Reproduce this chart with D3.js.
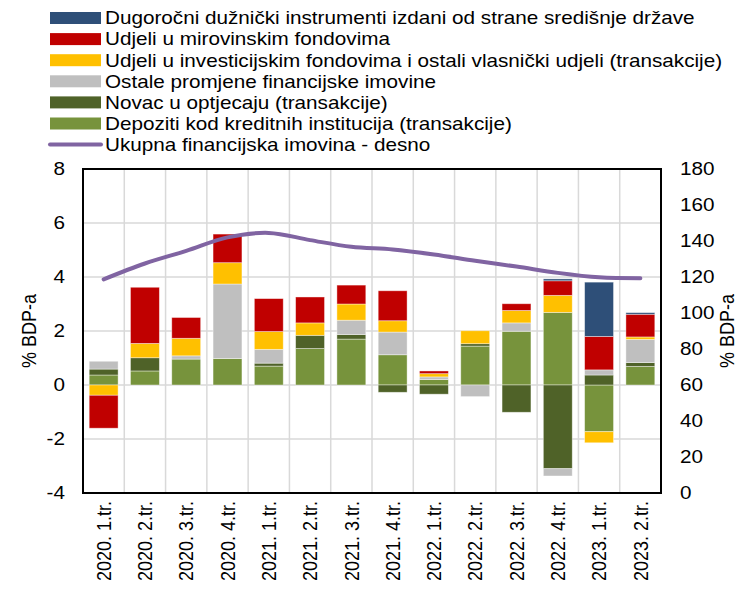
<!DOCTYPE html>
<html>
<head>
<meta charset="utf-8">
<script src="https://cdn.jsdelivr.net/npm/d3@7"></script>
<style>
  body { margin: 0; background: #fff; }
  text { font-family: "Liberation Sans", Arial, sans-serif; fill: #000; }
</style>
</head>
<body>
<div id="chart"></div>
<script>
// Categories (quarters)
const quarters = ["2020. 1.tr.", "2020. 2.tr.", "2020. 3.tr.", "2020. 4.tr.",
  "2021. 1.tr.", "2021. 2.tr.", "2021. 3.tr.", "2021. 4.tr.",
  "2022. 1.tr.", "2022. 2.tr.", "2022. 3.tr.", "2022. 4.tr.",
  "2023. 1.tr.", "2023. 2.tr."];

// Series values, % BDP-a (left axis)
const depoziti   = [0.37, 0.52, 0.96, 0.98, 0.70, 1.35, 1.70, 1.12, 0.20, 1.44, 1.99, 2.69, -1.73, 0.69];
const novac      = [0.22, 0.49, 0.00, 0.00, 0.11, 0.49, 0.17, -0.27, -0.34, 0.09, -1.01, -3.10, 0.37, 0.14];
const ostale     = [0.29, 0.00, 0.12, 2.76, 0.51, 0.00, 0.53, 0.84, 0.10, -0.43, 0.31, -0.27, 0.19, 0.86];
const investFond = [-0.38, 0.53, 0.65, 0.79, 0.66, 0.46, 0.60, 0.42, 0.12, 0.48, 0.46, 0.63, -0.41, 0.09];
const mirovFond  = [-1.22, 2.08, 0.77, 1.06, 1.22, 0.96, 0.70, 1.11, 0.10, 0.00, 0.25, 0.54, 1.24, 0.84];
const dugorocni  = [0.00, 0.00, 0.00, 0.00, 0.00, 0.00, 0.00, 0.00, 0.00, 0.00, 0.00, 0.07, 2.01, 0.06];

// Total financial assets, % BDP-a (right axis)
const ukupna = [118.7, 127.5, 134.5, 142, 144.5, 140.5, 136.8, 135.3, 132.5, 129, 125.8, 122.3, 119.8, 119.3];

const leftTicks = [-4, -2, 0, 2, 4, 6, 8];
const rightTicks = [0, 20, 40, 60, 80, 100, 120, 140, 160, 180];

const seriesNames = [
  "Depoziti kod kreditnih institucija (transakcije)",
  "Novac u optjecaju (transakcije)",
  "Ostale promjene financijske imovine",
  "Udjeli u investicijskim fondovima i ostali vlasnički udjeli (transakcije)",
  "Udjeli u mirovinskim fondovima",
  "Dugoročni dužnički instrumenti izdani od strane središnje države"
];
const seriesValues = [depoziti, novac, ostale, investFond, mirovFond, dugorocni];
const seriesColors = ["#77933C", "#4F6228", "#BFBFBF", "#FFC000", "#C00000", "#2E4F78"];
const lineName = "Ukupna financijska imovina - desno";
const lineColor = "#8064A2";

const W = 742, H = 590;
const margin = { top: 169, right: 81, bottom: 97, left: 83 };
const width = W - margin.left - margin.right;
const height = H - margin.top - margin.bottom;
const stretch = 1.15; // text in the picture is a little wider than plain Arial

const svg = d3.select("#chart").append("svg")
  .attr("width", W)
  .attr("height", H);

const chart = svg.append("g")
  .attr("transform", `translate(${margin.left},${margin.top})`);

// Scales
const x = d3.scaleBand().domain(quarters).range([0, width]).paddingInner(0.3).paddingOuter(0.15);
const xGrid = d3.scaleBand().domain(quarters).range([0, width]);
const y = d3.scaleLinear().domain([-4, 8]).range([height, 0]);
const y2 = d3.scaleLinear().domain([0, 180]).range([height, 0]);

// Gridlines
chart.append("g").selectAll("line.h")
  .data(leftTicks)
  .join("line")
  .attr("x1", 0).attr("x2", width)
  .attr("y1", d => y(d)).attr("y2", d => y(d))
  .attr("stroke", "#D9D9D9").attr("stroke-width", 1.5);

chart.append("g").selectAll("line.v")
  .data(quarters.slice(1))
  .join("line")
  .attr("x1", d => xGrid(d)).attr("x2", d => xGrid(d))
  .attr("y1", 0).attr("y2", height)
  .attr("stroke", "#D9D9D9").attr("stroke-width", 1.5);

// Stacked bars
const table = quarters.map((q, i) => {
  const row = { q };
  seriesNames.forEach((s, k) => { row[s] = seriesValues[k][i]; });
  return row;
});
const stacked = d3.stack()
  .keys(seriesNames)
  .offset(d3.stackOffsetDiverging)(table);

chart.append("g").selectAll("g")
  .data(stacked)
  .join("g")
  .attr("fill", (d, i) => seriesColors[i])
  .selectAll("rect")
  .data(d => d)
  .join("rect")
  .attr("x", d => x(d.data.q))
  .attr("width", x.bandwidth())
  .attr("y", d => y(Math.max(d[0], d[1])))
  .attr("height", d => Math.abs(y(d[0]) - y(d[1])))
  .attr("stroke", "#fff")
  .attr("stroke-opacity", 0.5)
  .attr("stroke-width", 0.8);

// Line on right axis
const line = d3.line()
  .x((d, i) => x(quarters[i]) + x.bandwidth() / 2)
  .y(d => y2(d))
  .curve(d3.curveCatmullRom);

chart.append("path")
  .datum(ukupna)
  .attr("d", line)
  .attr("fill", "none")
  .attr("stroke", lineColor)
  .attr("stroke-width", 4)
  .attr("stroke-linecap", "round");

// Frame
chart.append("rect")
  .attr("width", width).attr("height", height)
  .attr("fill", "none").attr("stroke", "#000").attr("stroke-width", 2);

// Axes
const leftAxis = chart.append("g")
  .call(d3.axisLeft(y).tickValues(leftTicks).tickSize(0).tickFormat(d => String(d)));
leftAxis.select(".domain").remove();
leftAxis.selectAll("text")
  .style("font-size", "18px")
  .attr("x", 0)
  .attr("transform", `translate(-18,0) scale(${stretch},1)`);

const rightAxis = chart.append("g")
  .attr("transform", `translate(${width},0)`)
  .call(d3.axisRight(y2).tickValues(rightTicks).tickSize(0));
rightAxis.select(".domain").remove();
rightAxis.selectAll("text")
  .style("font-size", "18px")
  .attr("x", 0)
  .attr("transform", `translate(19,0) scale(${stretch},1)`);

const bottomAxis = chart.append("g")
  .attr("transform", `translate(0,${height})`)
  .call(d3.axisBottom(x).tickSize(0).tickPadding(0));
bottomAxis.select(".domain").remove();
bottomAxis.selectAll("text")
  .style("font-size", "18px")
  .attr("text-anchor", "end")
  .attr("transform", `rotate(-90) scale(1,${stretch})`)
  .attr("x", -8)
  .attr("y", 0)
  .attr("dy", "0.35em");

// Axis titles
svg.append("text")
  .attr("transform", `translate(36,${margin.top + height / 2}) rotate(-90) scale(1,${stretch})`)
  .attr("text-anchor", "middle")
  .style("font-size", "18px")
  .text("% BDP-a");

svg.append("text")
  .attr("transform", `translate(734,${margin.top + height / 2}) rotate(-90) scale(1,${stretch})`)
  .attr("text-anchor", "middle")
  .style("font-size", "18px")
  .text("% BDP-a");

// Legend
const legendItems = seriesNames.map((s, i) => ({ name: s, color: seriesColors[i] })).reverse();
const legend = svg.append("g").attr("transform", "translate(50,18)");
const rowH = 21.1;

legendItems.forEach((d, i) => {
  legend.append("rect")
    .attr("x", 0).attr("y", i * rowH - 6)
    .attr("width", 51).attr("height", 12)
    .attr("fill", d.color);
  legend.append("text")
    .attr("transform", `translate(55,${i * rowH}) scale(${stretch},1)`)
    .attr("dy", "0.35em")
    .style("font-size", "18px")
    .text(d.name);
});
const li = legendItems.length;
legend.append("line")
  .attr("x1", 0).attr("x2", 51)
  .attr("y1", li * rowH).attr("y2", li * rowH)
  .attr("stroke", lineColor).attr("stroke-width", 4).attr("stroke-linecap", "round");
legend.append("text")
  .attr("transform", `translate(55,${li * rowH}) scale(${stretch},1)`)
  .attr("dy", "0.35em")
  .style("font-size", "18px")
  .text(lineName);
</script>
</body>
</html>
